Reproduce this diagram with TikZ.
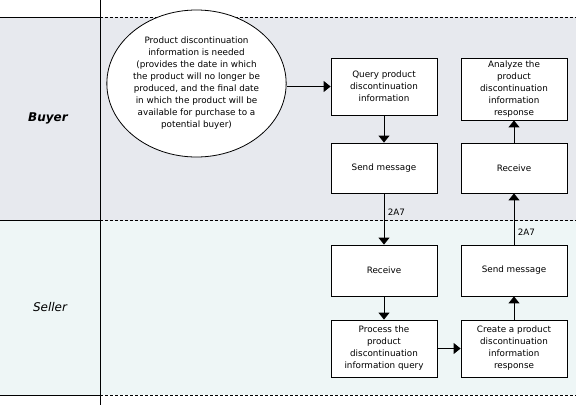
\documentclass[tikz,border=0pt]{standalone}
\usepackage{fontspec}
\setmainfont{DejaVu Sans}
\usetikzlibrary{arrows.meta,shapes.geometric}
\definecolor{buyerlane}{HTML}{E7E9EE}
\definecolor{sellerlane}{HTML}{EEF6F6}
\tikzstyle{arrow} = [-{Triangle[width=11pt,length=7pt]}, line width=0.9pt]
\tikzstyle{box} = [draw, fill=white, line width=0.8pt, minimum width=106pt, align=center, inner sep=1pt, font=\fontsize{8.8}{12}\selectfont]
\tikzstyle{lane} = [line width=0.9pt]
\tikzstyle{split} = [line width=0.9pt, dash pattern=on 3pt off 2pt]

\begin{document}
\begin{tikzpicture}[x=1pt,y=-1pt]
        \useasboundingbox (0,0) rectangle (576,405);
        \fill[buyerlane] (0,17) rectangle (576,220.5);
        \fill[sellerlane] (0,220.5) rectangle (576,395);
        \draw[lane] (100,0) -- (100,405);
        \foreach \y in {17,220.5,395} {
            \draw[lane] (0,\y) -- (100,\y);
            \draw[split] (100,\y) -- (576,\y);
        }
        \node[font=\fontsize{12}{14}\selectfont\bfseries\itshape] at (48,118) (buyer) {Buyer};
        \node[font=\fontsize{12}{14}\selectfont\itshape] at (50,307) (seller) {Seller};

        \node[box, ellipse, minimum width=173pt, minimum height=147pt, inner sep=0pt] at (196.5,83.5) (need) {Product discontinuation\\information is needed\\(provides the date in which\\the product will no longer be\\produced, and the final date\\in which the product will be\\available for purchase to a\\potential buyer)};
        \node[box, minimum height=57pt] at (384,86.5) (query) {Query product\\discontinuation\\information};
        \node[box, minimum height=50pt] at (384,168) (send) {Send message};
        \node[box, minimum height=51pt] at (384,270.5) (recv) {Receive};
        \node[box, minimum height=57pt] at (384,348.5) (proc) {Process the\\product\\discontinuation\\information query};
        \node[box, minimum height=57pt] at (514,348.5) (create) {Create a product\\discontinuation\\information\\response};
        \node[box, minimum height=51pt] at (514,270.5) (reply) {Send message};
        \node[box, minimum height=50pt] at (514,168) (got) {Receive};
        \node[box, minimum height=62pt] at (514,89) (analyze) {Analyze the\\product\\discontinuation\\information\\response};

        \draw[arrow] (need.east |- query.west) -- (query.west);
        \draw[arrow] (query) -- (send);
        \draw[arrow] (send) -- (recv) node[pos=0.37, right, font=\fontsize{8.8}{12}\selectfont]{2A7};
        \draw[arrow] (recv) -- (proc);
        \draw[arrow] (proc) -- (create);
        \draw[arrow] (create) -- (reply);
        \draw[arrow] (reply) -- (got) node[pos=0.25, right, font=\fontsize{8.8}{12}\selectfont]{2A7};
        \draw[arrow] (got) -- (analyze);
    \end{tikzpicture}
\end{document}
